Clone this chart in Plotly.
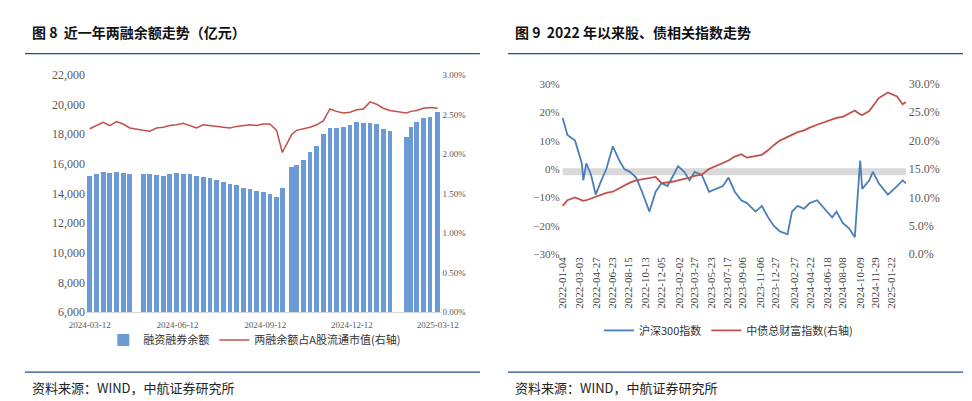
import plotly.graph_objects as go

# ---- Figure 8: margin balance (left) ----
bal_dates = ["2024-03-12", "2024-03-19", "2024-03-26", "2024-04-02", "2024-04-09", "2024-04-16",
             "2024-04-23", "2024-05-07", "2024-05-14", "2024-05-21", "2024-05-28", "2024-06-04",
             "2024-06-11", "2024-06-18", "2024-06-25", "2024-07-02", "2024-07-09", "2024-07-16",
             "2024-07-23", "2024-07-30", "2024-08-06", "2024-08-13", "2024-08-20", "2024-08-27",
             "2024-09-03", "2024-09-10", "2024-09-17", "2024-09-24", "2024-09-30", "2024-10-10",
             "2024-10-15", "2024-10-22", "2024-10-29", "2024-11-05", "2024-11-12", "2024-11-19",
             "2024-11-26", "2024-12-03", "2024-12-10", "2024-12-17", "2024-12-24", "2024-12-31",
             "2025-01-07", "2025-01-14", "2025-01-21", "2025-02-07", "2025-02-12", "2025-02-18",
             "2025-02-25", "2025-03-04", "2025-03-12"]
bal_values = [15200, 15300, 15450, 15400, 15450, 15400, 15350, 15350, 15300, 15250, 15200, 15350,
              15380, 15350, 15300, 15200, 15100, 15050, 14900, 14800, 14650, 14550, 14400, 14300,
              14200, 14100, 13950, 13750, 14400, 15800, 15900, 16300, 16800, 17200, 18000, 18450,
              18400, 18500, 18650, 18850, 18780, 18750, 18700, 18350, 18250, 17800, 18500, 18800,
              19100, 19200, 19500]
ratio_values = [2.32, 2.36, 2.40, 2.36, 2.41, 2.38, 2.33, 2.30, 2.29, 2.33, 2.34, 2.36,
                2.37, 2.39, 2.36, 2.33, 2.37, 2.36, 2.35, 2.34, 2.33, 2.35, 2.36, 2.37,
                2.36, 2.38, 2.38, 2.30, 2.02, 2.25, 2.30, 2.32, 2.34, 2.37, 2.42, 2.57,
                2.54, 2.52, 2.53, 2.56, 2.57, 2.66, 2.63, 2.58, 2.55, 2.52, 2.54, 2.55,
                2.58, 2.59, 2.58]

# ---- Figure 9: stock vs bond indices (right) ----
idx_dates = ["2022-01-04", "2022-01-20", "2022-02-15", "2022-03-10", "2022-03-15", "2022-03-25",
             "2022-04-10", "2022-04-26", "2022-05-15", "2022-06-01", "2022-06-23", "2022-07-15",
             "2022-08-01", "2022-08-20", "2022-09-10", "2022-09-30", "2022-10-25", "2022-11-15",
             "2022-12-05", "2022-12-25", "2023-01-15", "2023-01-30", "2023-02-20", "2023-03-10",
             "2023-03-27", "2023-04-20", "2023-05-15", "2023-06-10", "2023-07-01", "2023-07-20",
             "2023-08-10", "2023-09-01", "2023-09-20", "2023-10-20", "2023-11-10", "2023-12-01",
             "2023-12-20", "2024-01-10", "2024-02-05", "2024-02-20", "2024-03-10", "2024-04-01",
             "2024-04-20", "2024-05-15", "2024-06-10", "2024-07-05", "2024-07-20", "2024-08-10",
             "2024-09-01", "2024-09-20", "2024-10-08", "2024-10-15", "2024-11-08", "2024-11-20",
             "2024-12-10", "2025-01-10", "2025-02-10", "2025-03-01", "2025-03-12"]
hs300 = [18, 12, 10, 2, -4, 2, -2, -9, -4, 0, 8, 3, 0, -1, -3, -8, -15, -8, -5, -6,
         -2, 1, -1, -4, -1, -2, -8, -7, -6, -3, -8, -11, -12, -15, -13, -17, -20, -22, -23, -15,
         -13, -14, -12, -11, -14, -17, -15, -19, -21, -24, 3, -7, -4, -1, -5, -9, -6, -4, -5]
bond = [8.5, 9.5, 10.0, 9.5, 9.4, 9.5, 9.8, 10.2, 10.5, 10.8, 11.0, 11.6, 12.0, 12.6, 13.0, 13.2,
        13.4, 13.6, 12.5, 12.6, 12.8, 13.0, 13.2, 13.5, 13.8, 14.0, 15.0, 15.6, 16.2, 16.5,
        17.2, 17.6, 17.0, 17.3, 17.5, 18.3, 19.2, 20.0, 20.7, 21.0, 21.5, 21.8, 22.3, 22.8,
        23.3, 23.8, 24.0, 24.2, 24.8, 25.3, 24.6, 24.5, 25.2, 26.0, 27.5, 28.5, 27.8, 26.4, 26.8]
idx_ticks = ["2022-01-04", "2022-03-03", "2022-04-27", "2022-06-23", "2022-08-15", "2022-10-13",
             "2022-12-05", "2023-02-02", "2023-03-27", "2023-05-23", "2023-07-17", "2023-09-06",
             "2023-11-06", "2023-12-27", "2024-02-27", "2024-04-22", "2024-06-18", "2024-08-08",
             "2024-10-09", "2024-11-29", "2025-01-22"]

SERIF = "Liberation Serif, Noto Sans CJK SC"
CJK = "Noto Sans CJK SC"
BLUE = "#6a9bd6"
RED = "#c0504d"
LINE = "#4a7ebb"

fig = go.Figure()

fig.add_trace(go.Bar(x=bal_dates, y=bal_values, name="融资融券余额",
                     marker=dict(color=BLUE, line_width=0), width=5 * 86400000,
                     xaxis="x", yaxis="y", legend="legend"))
fig.add_trace(go.Scatter(x=bal_dates, y=ratio_values, name="两融余额占A股流通市值(右轴)",
                         mode="lines", line=dict(color=RED, width=1.5),
                         xaxis="x", yaxis="y2", legend="legend"))

fig.add_trace(go.Scatter(x=idx_dates, y=hs300, name="沪深300指数", mode="lines",
                         line=dict(color=LINE, width=1.8), xaxis="x2", yaxis="y3",
                         legend="legend2"))
fig.add_trace(go.Scatter(x=idx_dates, y=bond, name="中债总财富指数(右轴)", mode="lines",
                         line=dict(color=RED, width=1.8), xaxis="x2", yaxis="y4",
                         legend="legend2"))

tick_font = dict(family=SERIF, size=11, color="#595959")

fig.update_layout(
    width=972, height=401, margin=dict(l=0, r=0, t=0, b=0),
    paper_bgcolor="white", plot_bgcolor="white", bargap=0,
    xaxis=dict(domain=[0.065, 0.444], anchor="y", type="date",
               range=["2024-03-08", "2025-03-16"],
               tickvals=["2024-03-12", "2024-06-12", "2024-09-12", "2024-12-12", "2025-03-12"],
               ticktext=["2024-03-12", "2024-06-12", "2024-09-12", "2024-12-12", "2025-03-12"],
               tickfont=dict(family=SERIF, size=9, color="#595959"), showgrid=False,
               showline=True, linecolor="#d9d9d9", ticks="", ticklabelstandoff=4),
    yaxis=dict(domain=[0.232, 0.845], range=[6000, 22000], dtick=2000, tickformat=",",
               tickfont=dict(family=SERIF, size=12, color="#595959"), showgrid=False,
               zeroline=False),
    yaxis2=dict(overlaying="y", side="right", anchor="x", range=[0, 3], dtick=0.5,
                tickformat=".2f", ticksuffix="%", showgrid=False, zeroline=False,
                tickfont=dict(family=SERIF, size=9, color="#595959")),
    xaxis2=dict(domain=[0.571, 0.941], anchor="y3", type="date",
                range=["2021-12-28", "2025-03-18"], tickvals=idx_ticks, ticktext=idx_ticks,
                tickangle=-90, tickfont=dict(family=SERIF, size=11, color="#404040"),
                showgrid=False, showline=False, ticks=""),
    yaxis3=dict(domain=[0.382, 0.822], anchor="x2", range=[-30, 30], dtick=10,
                ticksuffix="%", tickfont=tick_font, showgrid=False, zeroline=False),
    yaxis4=dict(overlaying="y3", side="right", anchor="x2", range=[0, 30], dtick=5,
                tickformat=".1f", ticksuffix="%", showgrid=False, zeroline=False,
                tickfont=dict(family=SERIF, size=12, color="#595959")),
    legend=dict(orientation="h", x=0.245, y=0.16, xanchor="center", yanchor="middle",
                font=dict(family=CJK, size=11, color="#333"), bgcolor="rgba(0,0,0,0)"),
    legend2=dict(orientation="h", x=0.75, y=0.185, xanchor="center", yanchor="middle",
                 font=dict(family=CJK, size=11, color="#333"), bgcolor="rgba(0,0,0,0)"),
    shapes=[
        dict(type="line", xref="x2", yref="y3", x0=idx_dates[0], x1=idx_dates[-1],
             y0=-1, y1=-1, line=dict(color="#d9d9d9", width=7), layer="below"),
        dict(type="line", xref="paper", yref="paper", x0=0.0, x1=0.485, y0=0.9, y1=0.9,
             line=dict(color="#1f4e8c", width=1.2)),
        dict(type="line", xref="paper", yref="paper", x0=0.515, x1=1.0, y0=0.9, y1=0.9,
             line=dict(color="#1f4e8c", width=1.2)),
        dict(type="line", xref="paper", yref="paper", x0=0.0, x1=0.485, y0=0.077, y1=0.077,
             line=dict(color="#1f4e8c", width=1.2)),
        dict(type="line", xref="paper", yref="paper", x0=0.515, x1=1.0, y0=0.077, y1=0.077,
             line=dict(color="#1f4e8c", width=1.2)),
    ],
    annotations=[
        dict(text="<b>图 8  近一年两融余额走势（亿元）</b>", x=0.005, y=0.955, xref="paper",
             yref="paper", xanchor="left", yanchor="middle", showarrow=False,
             font=dict(family=CJK, size=14, color="#111")),
        dict(text="<b>图 9  2022 年以来股、债相关指数走势</b>", x=0.52, y=0.955, xref="paper",
             yref="paper", xanchor="left", yanchor="middle", showarrow=False,
             font=dict(family=CJK, size=14, color="#111")),
        dict(text="资料来源：WIND，中航证券研究所", x=0.005, y=0.038, xref="paper",
             yref="paper", xanchor="left", yanchor="middle", showarrow=False,
             font=dict(family=CJK, size=13, color="#222")),
        dict(text="资料来源：WIND，中航证券研究所", x=0.52, y=0.038, xref="paper",
             yref="paper", xanchor="left", yanchor="middle", showarrow=False,
             font=dict(family=CJK, size=13, color="#222")),
    ],
)

fig.write_html("out.html")
